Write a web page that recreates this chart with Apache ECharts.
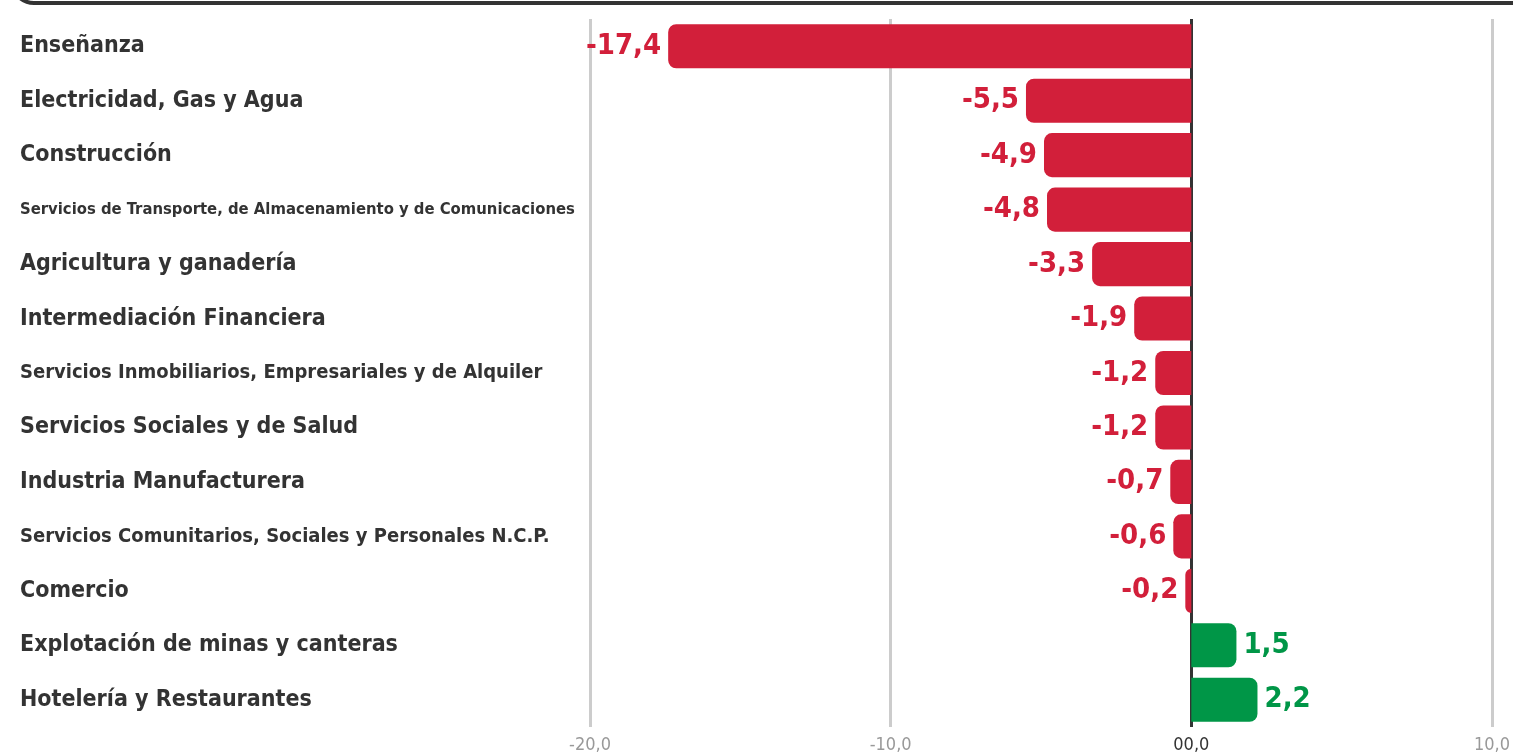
<!DOCTYPE html>
<html>
<head>
<meta charset="utf-8">
<script src="https://cdn.jsdelivr.net/npm/echarts@6/dist/echarts.min.js"></script>
<style>
  html, body { margin: 0; padding: 0; background: #fff; }
  #chart { width: 1513px; height: 756px; }
</style>
</head>
<body>
<div id="chart"></div>
<script>
// sectores (de arriba hacia abajo)
const sectores = [
  'Enseñanza',
  'Electricidad, Gas y Agua',
  'Construcción',
  'Servicios de Transporte, de Almacenamiento y de Comunicaciones',
  'Agricultura y ganadería',
  'Intermediación Financiera',
  'Servicios Inmobiliarios, Empresariales y de Alquiler',
  'Servicios Sociales y de Salud',
  'Industria Manufacturera',
  'Servicios Comunitarios, Sociales y Personales N.C.P.',
  'Comercio',
  'Explotación de minas y canteras',
  'Hotelería y Restaurantes'
]
const variacion = [-17.4, -5.5, -4.9, -4.8, -3.3, -1.9, -1.2, -1.2, -0.7, -0.6, -0.2, 1.5, 2.2]
const ticksX = [-20, -10, 0, 10]

const ROJO = '#d21f3a'
const VERDE = '#009647'
const FUENTE = '"DejaVu Sans Condensed", "Liberation Sans Narrow", sans-serif'

// etiquetas largas van mas chicas para que entren
const tamLabel = (s) => {
  if (s.length > 55) return 16.5
  if (s.length > 40) return 20
  return 23
}

const coma = (v) => v.toFixed(1).replace('.', ',')

const chart = echarts.init(document.getElementById('chart'))

chart.setOption({
  animation: false,
  grid: { left: 590, right: 21, top: 19, bottom: 29, outerBoundsMode: 'none', containLabel: false },
  graphic: [{
    type: 'rect',
    shape: { x: 12, y: -60, width: 1600, height: 63, r: 22 },
    style: { fill: 'none', stroke: '#333', lineWidth: 4 }
  }],
  xAxis: {
    type: 'value',
    min: ticksX[0],
    max: ticksX[ticksX.length - 1],
    interval: 10,
    axisLine: { show: false },
    axisTick: { show: false },
    splitLine: {
      lineStyle: { color: ['#cccccc', '#cccccc', '#333333', '#cccccc'], width: 3 }
    },
    axisLabel: {
      margin: 9,
      fontFamily: FUENTE,
      fontSize: 18,
      color: '#999',
      formatter: (v) => (v === 0 ? '{z|00,0}' : coma(v)),
      rich: { z: { color: '#333', fontFamily: FUENTE, fontSize: 18 } }
    }
  },
  yAxis: {
    type: 'category',
    inverse: true,
    data: sectores.map((s) => ({
      value: s,
      textStyle: { fontSize: tamLabel(s), align: 'left' }
    })),
    axisLine: { show: false },
    axisTick: { show: false },
    axisLabel: {
      align: 'left',
      margin: 570,
      fontFamily: FUENTE,
      fontWeight: 'bold',
      color: '#333'
    }
  },
  series: [{
    type: 'bar',
    barCategoryGap: '19%',
    data: variacion.map((v) => ({
      value: v,
      itemStyle: {
        color: v < 0 ? ROJO : VERDE,
        borderRadius: v < 0 ? [8, 0, 0, 8] : [0, 8, 8, 0]
      },
      label: {
        position: v < 0 ? 'left' : 'right',
        color: v < 0 ? ROJO : VERDE
      }
    })),
    label: {
      show: true,
      distance: 7,
      fontFamily: FUENTE,
      fontWeight: 'bold',
      fontSize: 29,
      formatter: (p) => coma(p.value)
    }
  }]
})
</script>
</body>
</html>
